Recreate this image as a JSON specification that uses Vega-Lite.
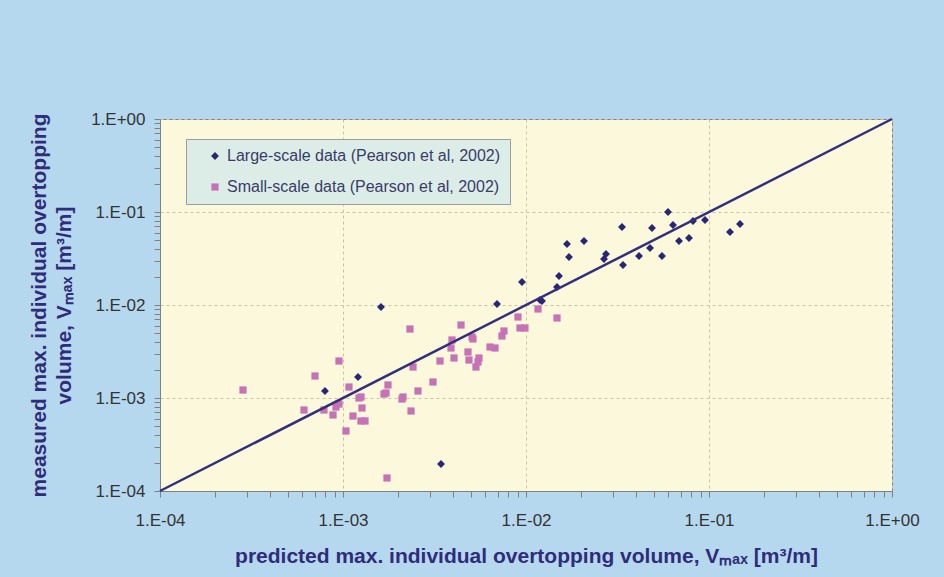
{
  "$schema": "https://vega.github.io/schema/vega-lite/v6.json",
  "width": 732,
  "height": 372,
  "autosize": "none",
  "padding": {"left": 160, "top": 119, "right": 52, "bottom": 86},
  "background": "#b6d8ef",
  "config": {
    "view": {"fill": "#fcf8dc", "stroke": "#808080", "strokeWidth": 1},
    "font": "Liberation Sans"
  },
  "datasets": {
    "diag": [
      {"predicted": 0.0001, "measured": 0.0001},
      {"predicted": 1, "measured": 1}
    ],
    "pts": [
      {"series": "Large-scale data (Pearson et al, 2002)", "predicted": 0.001613, "measured": 0.00952},
      {"series": "Large-scale data (Pearson et al, 2002)", "predicted": 0.000797, "measured": 0.001189},
      {"series": "Large-scale data (Pearson et al, 2002)", "predicted": 0.001208, "measured": 0.001682},
      {"series": "Large-scale data (Pearson et al, 2002)", "predicted": 0.003432, "measured": 0.0001952},
      {"series": "Large-scale data (Pearson et al, 2002)", "predicted": 0.006943, "measured": 0.01025},
      {"series": "Large-scale data (Pearson et al, 2002)", "predicted": 0.009508, "measured": 0.01768},
      {"series": "Large-scale data (Pearson et al, 2002)", "predicted": 0.01193, "measured": 0.01132},
      {"series": "Large-scale data (Pearson et al, 2002)", "predicted": 0.01223, "measured": 0.01104},
      {"series": "Large-scale data (Pearson et al, 2002)", "predicted": 0.01477, "measured": 0.01561},
      {"series": "Large-scale data (Pearson et al, 2002)", "predicted": 0.01515, "measured": 0.0205},
      {"series": "Large-scale data (Pearson et al, 2002)", "predicted": 0.01675, "measured": 0.04529},
      {"series": "Large-scale data (Pearson et al, 2002)", "predicted": 0.01718, "measured": 0.03282},
      {"series": "Large-scale data (Pearson et al, 2002)", "predicted": 0.02074, "measured": 0.04877},
      {"series": "Large-scale data (Pearson et al, 2002)", "predicted": 0.02668, "measured": 0.03123},
      {"series": "Large-scale data (Pearson et al, 2002)", "predicted": 0.02736, "measured": 0.03535},
      {"series": "Large-scale data (Pearson et al, 2002)", "predicted": 0.03347, "measured": 0.06897},
      {"series": "Large-scale data (Pearson et al, 2002)", "predicted": 0.03389, "measured": 0.02692},
      {"series": "Large-scale data (Pearson et al, 2002)", "predicted": 0.04145, "measured": 0.03364},
      {"series": "Large-scale data (Pearson et al, 2002)", "predicted": 0.04761, "measured": 0.04101},
      {"series": "Large-scale data (Pearson et al, 2002)", "predicted": 0.04882, "measured": 0.06729},
      {"series": "Large-scale data (Pearson et al, 2002)", "predicted": 0.05535, "measured": 0.03364},
      {"series": "Large-scale data (Pearson et al, 2002)", "predicted": 0.0597, "measured": 0.1},
      {"series": "Large-scale data (Pearson et al, 2002)", "predicted": 0.06357, "measured": 0.07247},
      {"series": "Large-scale data (Pearson et al, 2002)", "predicted": 0.06857, "measured": 0.04877},
      {"series": "Large-scale data (Pearson et al, 2002)", "predicted": 0.07774, "measured": 0.05254},
      {"series": "Large-scale data (Pearson et al, 2002)", "predicted": 0.08177, "measured": 0.08002},
      {"series": "Large-scale data (Pearson et al, 2002)", "predicted": 0.09508, "measured": 0.08203},
      {"series": "Large-scale data (Pearson et al, 2002)", "predicted": 0.1302, "measured": 0.06094},
      {"series": "Large-scale data (Pearson et al, 2002)", "predicted": 0.1477, "measured": 0.0743},
      {"series": "Small-scale data (Pearson et al, 2002)", "predicted": 0.0002842, "measured": 0.001219},
      {"series": "Small-scale data (Pearson et al, 2002)", "predicted": 0.0006121, "measured": 0.000743},
      {"series": "Small-scale data (Pearson et al, 2002)", "predicted": 0.0007031, "measured": 0.001724},
      {"series": "Small-scale data (Pearson et al, 2002)", "predicted": 0.000787, "measured": 0.000743},
      {"series": "Small-scale data (Pearson et al, 2002)", "predicted": 0.000882, "measured": 0.0006567},
      {"series": "Small-scale data (Pearson et al, 2002)", "predicted": 0.0009155, "measured": 0.0008},
      {"series": "Small-scale data (Pearson et al, 2002)", "predicted": 0.0009508, "measured": 0.000862},
      {"series": "Small-scale data (Pearson et al, 2002)", "predicted": 0.0009508, "measured": 0.002499},
      {"series": "Small-scale data (Pearson et al, 2002)", "predicted": 0.001038, "measured": 0.0004417},
      {"series": "Small-scale data (Pearson et al, 2002)", "predicted": 0.001078, "measured": 0.001313},
      {"series": "Small-scale data (Pearson et al, 2002)", "predicted": 0.001134, "measured": 0.00064},
      {"series": "Small-scale data (Pearson et al, 2002)", "predicted": 0.001223, "measured": 0.001},
      {"series": "Small-scale data (Pearson et al, 2002)", "predicted": 0.001254, "measured": 0.001025},
      {"series": "Small-scale data (Pearson et al, 2002)", "predicted": 0.00127, "measured": 0.000781},
      {"series": "Small-scale data (Pearson et al, 2002)", "predicted": 0.001254, "measured": 0.000566},
      {"series": "Small-scale data (Pearson et al, 2002)", "predicted": 0.001319, "measured": 0.000566},
      {"series": "Small-scale data (Pearson et al, 2002)", "predicted": 0.001675, "measured": 0.001104},
      {"series": "Small-scale data (Pearson et al, 2002)", "predicted": 0.001718, "measured": 0.001132},
      {"series": "Small-scale data (Pearson et al, 2002)", "predicted": 0.001739, "measured": 0.000138},
      {"series": "Small-scale data (Pearson et al, 2002)", "predicted": 0.001761, "measured": 0.00138},
      {"series": "Small-scale data (Pearson et al, 2002)", "predicted": 0.002101, "measured": 0.000975},
      {"series": "Small-scale data (Pearson et al, 2002)", "predicted": 0.002127, "measured": 0.001025},
      {"series": "Small-scale data (Pearson et al, 2002)", "predicted": 0.002323, "measured": 0.00552},
      {"series": "Small-scale data (Pearson et al, 2002)", "predicted": 0.002353, "measured": 0.000725},
      {"series": "Small-scale data (Pearson et al, 2002)", "predicted": 0.002413, "measured": 0.002154},
      {"series": "Small-scale data (Pearson et al, 2002)", "predicted": 0.002569, "measured": 0.001189},
      {"series": "Small-scale data (Pearson et al, 2002)", "predicted": 0.003103, "measured": 0.001486},
      {"series": "Small-scale data (Pearson et al, 2002)", "predicted": 0.003389, "measured": 0.002499},
      {"series": "Small-scale data (Pearson et al, 2002)", "predicted": 0.003892, "measured": 0.003449},
      {"series": "Small-scale data (Pearson et al, 2002)", "predicted": 0.003941, "measured": 0.004205},
      {"series": "Small-scale data (Pearson et al, 2002)", "predicted": 0.004042, "measured": 0.002692},
      {"series": "Small-scale data (Pearson et al, 2002)", "predicted": 0.004414, "measured": 0.006093},
      {"series": "Small-scale data (Pearson et al, 2002)", "predicted": 0.00482, "measured": 0.003123},
      {"series": "Small-scale data (Pearson et al, 2002)", "predicted": 0.00488, "measured": 0.002562},
      {"series": "Small-scale data (Pearson et al, 2002)", "predicted": 0.00507, "measured": 0.004529},
      {"series": "Small-scale data (Pearson et al, 2002)", "predicted": 0.005133, "measured": 0.00431},
      {"series": "Small-scale data (Pearson et al, 2002)", "predicted": 0.00533, "measured": 0.002154},
      {"series": "Small-scale data (Pearson et al, 2002)", "predicted": 0.005466, "measured": 0.002438},
      {"series": "Small-scale data (Pearson et al, 2002)", "predicted": 0.005535, "measured": 0.002692},
      {"series": "Small-scale data (Pearson et al, 2002)", "predicted": 0.006357, "measured": 0.003535},
      {"series": "Small-scale data (Pearson et al, 2002)", "predicted": 0.00677, "measured": 0.003449},
      {"series": "Small-scale data (Pearson et al, 2002)", "predicted": 0.00739, "measured": 0.004642},
      {"series": "Small-scale data (Pearson et al, 2002)", "predicted": 0.00758, "measured": 0.005254},
      {"series": "Small-scale data (Pearson et al, 2002)", "predicted": 0.00904, "measured": 0.00743},
      {"series": "Small-scale data (Pearson et al, 2002)", "predicted": 0.00927, "measured": 0.00566},
      {"series": "Small-scale data (Pearson et al, 2002)", "predicted": 0.00987, "measured": 0.00566},
      {"series": "Small-scale data (Pearson et al, 2002)", "predicted": 0.01163, "measured": 0.00906},
      {"series": "Small-scale data (Pearson et al, 2002)", "predicted": 0.01477, "measured": 0.00725}
    ]
  },
  "layer": [
    {
      "data": {"name": "pts"},
      "mark": {"type": "point", "filled": true, "opacity": 1},
      "encoding": {
        "x": {
          "field": "predicted", "type": "quantitative",
          "scale": {"type": "log", "domain": [0.0001, 1], "nice": false},
          "axis": {
            "values": [0.0001,0.0002,0.0003,0.0004,0.0005,0.0006,0.0007,0.0008,0.0009,0.001,0.002,0.003,0.004,0.005,0.006,0.007,0.008,0.009,0.01,0.02,0.03,0.04,0.05,0.06,0.07,0.08,0.09,0.1,0.2,0.3,0.4,0.5,0.6,0.7,0.8,0.9,1],
            "labelExpr": "abs(log(datum.value)/LN10 - round(log(datum.value)/LN10)) < 0.000001 ? ('1.E' + (datum.value >= 1 ? '+00' : '-0' + round(-log(datum.value)/LN10))) : ''",
            "labelFont": "Liberation Sans", "labelFontSize": 17, "labelColor": "#333333",
            "labelPadding": 15, "labelFlush": false, "labelOverlap": false,
            "tickSize": 6, "tickColor": "#808080", "domainColor": "#808080",
            "grid": true, "gridColor": "#c8c4a8", "gridDash": [3, 3],
            "gridOpacity": {"condition": {"test": "abs(log(datum.value)/LN10 - round(log(datum.value)/LN10)) < 0.000001", "value": 1}, "value": 0},
            "title": "predicted max. individual overtopping volume, Vₘₐₓ [m³/m]",
            "titleFont": "Liberation Sans", "titleFontSize": 21, "titleFontWeight": "bold",
            "titleColor": "#2f2c7c", "titlePadding": 17
          }
        },
        "y": {
          "field": "measured", "type": "quantitative",
          "scale": {"type": "log", "domain": [0.0001, 1], "nice": false},
          "axis": {
            "values": [0.0001,0.0002,0.0003,0.0004,0.0005,0.0006,0.0007,0.0008,0.0009,0.001,0.002,0.003,0.004,0.005,0.006,0.007,0.008,0.009,0.01,0.02,0.03,0.04,0.05,0.06,0.07,0.08,0.09,0.1,0.2,0.3,0.4,0.5,0.6,0.7,0.8,0.9,1],
            "labelExpr": "abs(log(datum.value)/LN10 - round(log(datum.value)/LN10)) < 0.000001 ? ('1.E' + (datum.value >= 1 ? '+00' : '-0' + round(-log(datum.value)/LN10))) : ''",
            "labelFont": "Liberation Sans", "labelFontSize": 17, "labelColor": "#333333",
            "labelPadding": 9, "labelFlush": false, "labelOverlap": false,
            "tickSize": 6, "tickColor": "#808080", "domainColor": "#808080",
            "grid": true, "gridColor": "#c8c4a8", "gridDash": [3, 3],
            "gridOpacity": {"condition": {"test": "abs(log(datum.value)/LN10 - round(log(datum.value)/LN10)) < 0.000001", "value": 1}, "value": 0},
            "title": ["measured max. individual overtopping", "volume, Vₘₐₓ [m³/m]"],
            "titleFont": "Liberation Sans", "titleFontSize": 21, "titleFontWeight": "bold",
            "titleColor": "#2f2c7c", "titlePadding": 16, "titleLineHeight": 25
          }
        },
        "shape": {
          "field": "series", "type": "nominal",
          "scale": {"domain": ["Large-scale data (Pearson et al, 2002)", "Small-scale data (Pearson et al, 2002)"], "range": ["diamond", "square"]},
          "legend": null
        },
        "size": {
          "field": "series", "type": "nominal",
          "scale": {"domain": ["Large-scale data (Pearson et al, 2002)", "Small-scale data (Pearson et al, 2002)"], "range": [62, 52]},
          "legend": null
        },
        "color": {
          "field": "series", "type": "nominal",
          "scale": {"domain": ["Large-scale data (Pearson et al, 2002)", "Small-scale data (Pearson et al, 2002)"], "range": ["#2a2676", "#c572b6"]},
          "legend": {
            "title": null, "orient": "none", "legendX": 26, "legendY": 20,
            "symbolType": "diamond", "symbolSize": 30,
            "labelFont": "Liberation Sans", "labelFontSize": 16, "labelColor": "#3a3a6a",
            "fillColor": "#dcede8", "strokeColor": "#9aa0a0", "padding": 9,
            "symbolOffset": 12, "labelOffset": 4, "rowPadding": 15, "labelLimit": 400
          }
        },
        "order": {"field": "series", "sort": "descending"}
      }
    },
    {
      "data": {"name": "diag"},
      "mark": {"type": "line", "color": "#342f7c", "strokeWidth": 2.5},
      "encoding": {
        "x": {"field": "predicted", "type": "quantitative"},
        "y": {"field": "measured", "type": "quantitative"}
      }
    }
  ]
}
